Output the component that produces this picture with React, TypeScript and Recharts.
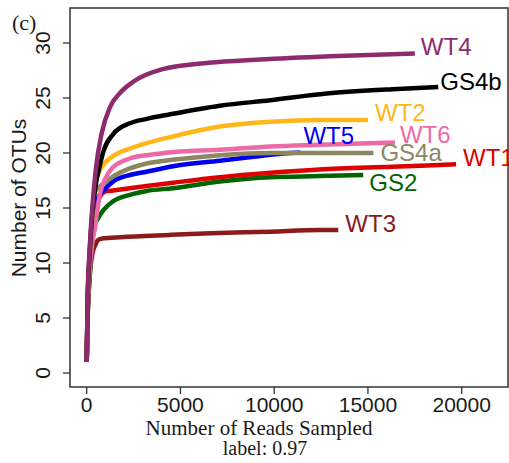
import React from "react";
import {
  LineChart,
  Line,
  XAxis,
  YAxis,
  ReferenceArea,
} from "recharts";

const WT3 = [[1, 1], [50, 5], [150, 8.5], [300, 10.8], [450, 11.6], [620, 12.1], [900, 12.25], [1800, 12.35], [4400, 12.55], [6600, 12.7], [9800, 12.85], [12400, 13.0], [13420, 13.0]];
const GS2 = [[1, 1], [50, 5], [150, 8.5], [270, 11.5], [350, 13], [620, 14.1], [890, 14.8], [1400, 15.6], [2300, 16.2], [3200, 16.55], [4600, 16.8], [7100, 17.4], [9800, 17.8], [12400, 17.9], [14750, 18.0]];
const WT1 = [[1, 1], [50, 5.5], [150, 9], [300, 12.5], [500, 14.8], [700, 16], [980, 16.5], [1400, 16.6], [2300, 16.8], [3200, 17.0], [4600, 17.3], [7100, 17.8], [9800, 18.2], [12400, 18.5], [16300, 18.75], [19700, 18.97]];
const WT5 = [[1, 1], [50, 6], [150, 10], [300, 13.5], [500, 15.5], [700, 16.2], [900, 16.6], [1400, 17.4], [2300, 18.0], [3200, 18.3], [4600, 18.8], [7100, 19.3], [8900, 19.65], [9800, 19.85], [11400, 20.05]];
const GS4a = [[1, 1], [50, 6], [150, 10.5], [300, 14.5], [450, 16.5], [900, 17.2], [1400, 17.85], [2300, 18.6], [3200, 19.05], [4700, 19.4], [7100, 19.8], [9800, 20.0], [12400, 20.0], [15290, 20.0]];
const WT6 = [[1, 1], [50, 5.5], [150, 9], [300, 11.8], [450, 13.3], [550, 14.6], [700, 16.2], [1000, 17.7], [1400, 18.7], [2300, 19.5], [3200, 19.8], [4700, 20.1], [7100, 20.3], [9800, 20.6], [12400, 20.75], [16440, 20.95]];
const WT2 = [[1, 1], [50, 6.5], [150, 10.5], [300, 14.5], [450, 17.2], [700, 18.4], [1400, 19.7], [2300, 20.4], [3200, 20.9], [4600, 21.5], [7100, 22.4], [9800, 22.85], [12400, 23.0], [15000, 23.0]];
const GS4b = [[1, 1], [50, 6.5], [150, 10.5], [300, 14.5], [500, 17.3], [650, 18.5], [900, 20.2], [1400, 21.7], [2300, 22.7], [3200, 23.1], [4400, 23.5], [7100, 24.3], [9800, 24.8], [12800, 25.4], [16300, 25.8], [18750, 26.0]];
const WT4 = [[1, 1], [50, 7], [150, 11], [300, 15], [500, 18.7], [800, 21.8], [1250, 24.2], [1800, 25.5], [2500, 26.5], [4000, 27.6], [6500, 28.2], [9200, 28.5], [13000, 28.8], [17500, 29.05]];

const xTicks = [0, 5000, 10000, 15000, 20000];
const yTicks = [0, 5, 10, 15, 20, 25, 30];

// drawing order: later ones sit on top
const series = [
  { name: "WT3", pts: WT3, color: "#8B1A1A", dx: 7, dy: -7 },
  { name: "GS2", pts: GS2, color: "#006400", dx: 6, dy: 7 },
  { name: "WT1", pts: WT1, color: "#DD0000", dx: 7, dy: -7 },
  { name: "WT5", pts: WT5, color: "#0000EE", dx: 3, dy: -17 },
  { name: "GS4a", pts: GS4a, color: "#8C8760", dx: 7, dy: 0 },
  { name: "WT6", pts: WT6, color: "#EE6AA7", dx: 5, dy: -8 },
  { name: "WT2", pts: WT2, color: "#FFB619", dx: 7, dy: -7 },
  { name: "GS4b", pts: GS4b, color: "#000000", dx: 2, dy: -5 },
  { name: "WT4", pts: WT4, color: "#8E2A6E", dx: 6, dy: -7 },
];

const sans = "Arial, 'Liberation Sans', Helvetica, sans-serif";
const serif = "'Times New Roman', 'Liberation Serif', serif";

const YTick = ({ x, y, payload }: any) => (
  <text
    x={x}
    y={y}
    transform={`rotate(-90 ${x} ${y})`}
    textAnchor="middle"
    fontSize={21}
    fontFamily={sans}
    fill="#1a1a1a"
  >
    {payload.value}
  </text>
);

export default function App() {
  return (
    <div
      style={{
        position: "absolute",
        left: 0,
        top: 0,
        width: 509,
        height: 463,
        overflow: "hidden",
        background: "#fff",
      }}
    >
      <LineChart
        width={509}
        height={463}
        margin={{ top: 8, right: 1, bottom: 0, left: 0 }}
      >
        <XAxis
          dataKey="reads"
          type="number"
          domain={[-890, 22470]}
          allowDataOverflow
          ticks={xTicks}
          height={76}
          tickSize={7}
          tickMargin={3}
          axisLine={false}
          tickLine={{ stroke: "#333", strokeWidth: 1.3 }}
          tick={{ fontSize: 21, fontFamily: sans, fill: "#1a1a1a" }}
        />
        <YAxis
          type="number"
          domain={[-1.27, 33.18]}
          allowDataOverflow
          ticks={yTicks}
          width={70}
          tickSize={7}
          tickMargin={13}
          axisLine={false}
          tickLine={{ stroke: "#333", strokeWidth: 1.3 }}
          tick={<YTick />}
        />
        <ReferenceArea
          x1={-890}
          x2={22470}
          y1={-1.27}
          y2={33.18}
          fill="none"
          stroke="#333"
          strokeWidth={1.5}
          fillOpacity={0}
        />
        {series.map((s) => {
          const rows = s.pts.map(([reads, otus]) => ({ reads, otus }));
          const last = rows.length - 1;
          return (
            <Line
              key={s.name}
              data={rows}
              dataKey="otus"
              type="monotone"
              stroke={s.color}
              strokeWidth={4.5}
              dot={false}
              isAnimationActive={false}
              label={(p: any) =>
                p.index === last ? (
                  <text
                    key={s.name + "-lab"}
                    x={p.x + s.dx}
                    y={p.y + s.dy}
                    dominantBaseline="central"
                    fontSize={24}
                    fontFamily={sans}
                    fill={s.color}
                  >
                    {s.name}
                  </text>
                ) : (
                  <g key={s.name + "-" + p.index} />
                )
              }
            />
          );
        })}
      </LineChart>
      <svg
        width={509}
        height={463}
        style={{ position: "absolute", left: 0, top: 0, pointerEvents: "none" }}
      >
        <text x={12} y={30} fontSize={22} fontFamily={serif} fill="#1a1a1a">
          (c)
        </text>
        <text
          x={26}
          y={198}
          transform="rotate(-90 26 198)"
          textAnchor="middle"
          fontSize={21}
          fontFamily={sans}
          fill="#1a1a1a"
        >
          Number of OTUs
        </text>
        <text x={259} y={435} textAnchor="middle" fontSize={21} fontFamily={serif} fill="#1a1a1a">
          Number of Reads Sampled
        </text>
        <text x={265} y={455} textAnchor="middle" fontSize={20} fontFamily={serif} fill="#1a1a1a">
          label: 0.97
        </text>
      </svg>
    </div>
  );
}
